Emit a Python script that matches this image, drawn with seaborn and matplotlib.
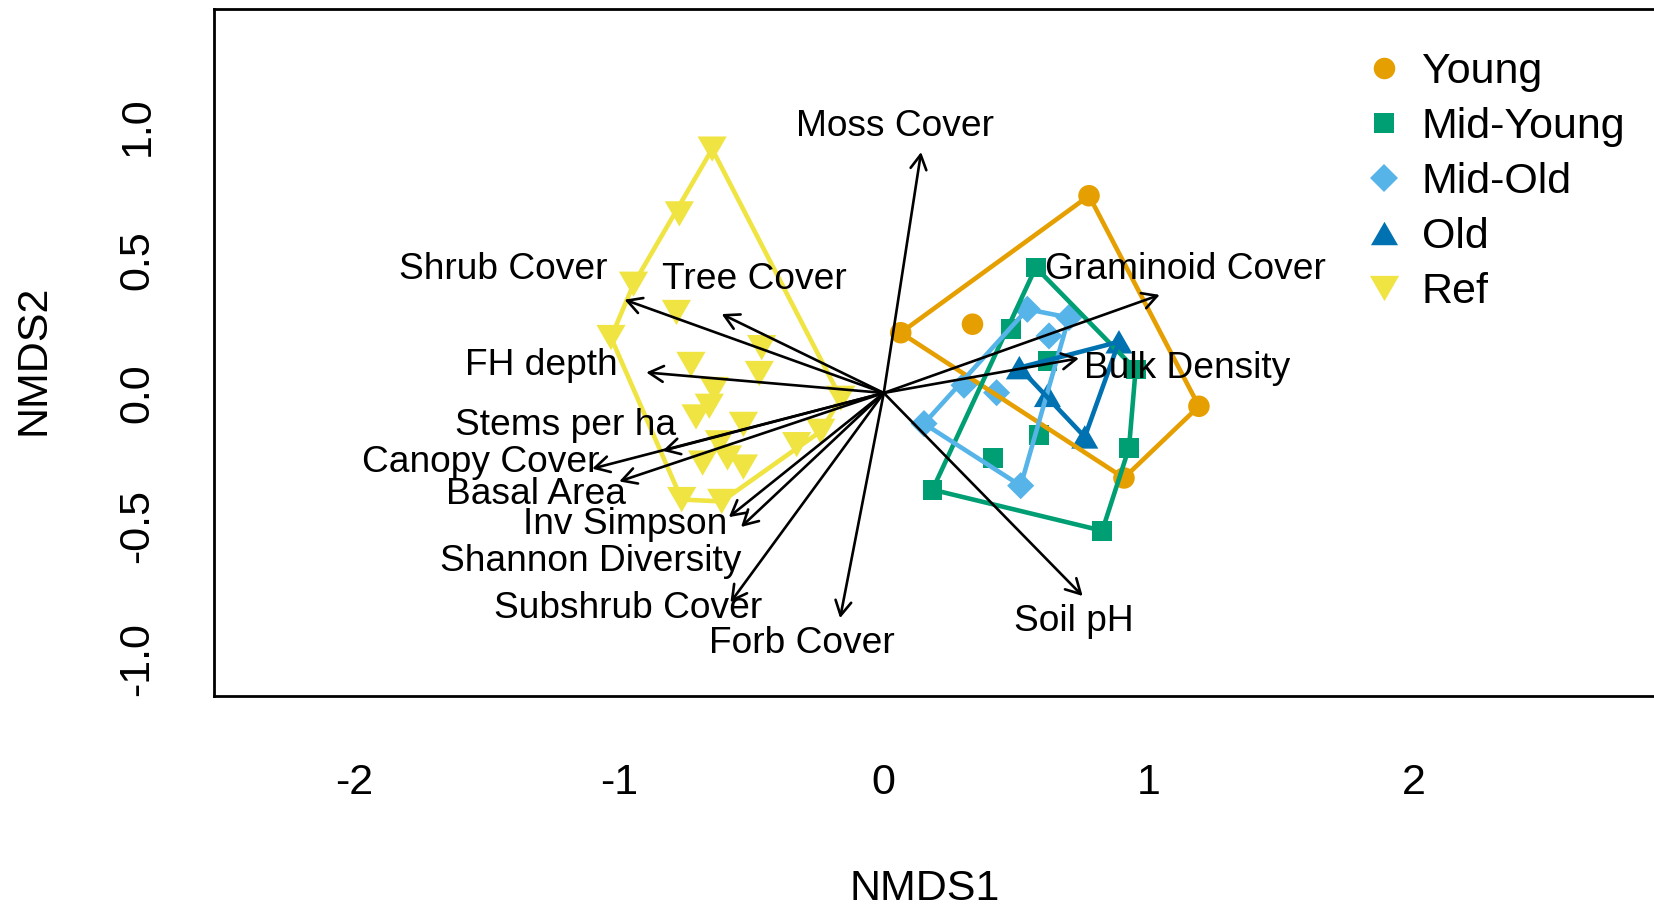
import numpy as np
import pandas as pd
import matplotlib
matplotlib.use("Agg")
import matplotlib.pyplot as plt
import seaborn as sns
from matplotlib.lines import Line2D
from matplotlib.patches import FancyArrowPatch
from matplotlib.markers import MarkerStyle

# ---- site scores (NMDS1, NMDS2) by stand age class ----
young_x = [0.064, 0.335, 0.775, 1.190, 0.907]
young_y = [0.226, 0.258, 0.740, -0.050, -0.319]

midyoung_x = [0.574, 0.479, 0.618, 0.951, 0.586, 0.926, 0.412, 0.184, 0.825]
midyoung_y = [0.471, 0.239, 0.120, 0.088, -0.159, -0.206, -0.244, -0.363, -0.517]

midold_x = [0.542, 0.699, 0.624, 0.303, 0.426, 0.152, 0.517]
midold_y = [0.314, 0.283, 0.214, 0.029, 0.001, -0.115, -0.348]

old_x = [0.888, 0.512, 0.618, 0.759]
old_y = [0.192, 0.095, -0.009, -0.165]

ref_x = [-0.648, -0.772, -0.945, -0.783, -1.030, -0.461, -0.728, -0.470, -0.640,
         -0.659, -0.709, -0.530, -0.162, -0.238, -0.329, -0.684, -0.590, -0.530,
         -0.621, -0.763, -0.612]
ref_y = [0.915, 0.672, 0.408, 0.302, 0.208, 0.170, 0.107, 0.073, 0.013,
         -0.050, -0.090, -0.118, -0.020, -0.144, -0.194, -0.263, -0.244, -0.278,
         -0.187, -0.400, -0.407]

groups = ["Young", "Mid-Young", "Mid-Old", "Old", "Ref"]
group_x = [young_x, midyoung_x, midold_x, old_x, ref_x]
group_y = [young_y, midyoung_y, midold_y, old_y, ref_y]

# ---- fitted environmental vectors ----
vec_names = ["Moss Cover", "Graminoid Cover", "Bulk Density", "Soil pH", "Forb Cover",
             "Subshrub Cover", "Shannon Diversity", "Inv Simpson", "Basal Area",
             "Canopy Cover", "Stems per ha", "FH depth", "Shrub Cover", "Tree Cover"]
vec_x = [0.141, 1.042, 0.737, 0.751, -0.165, -0.579, -0.539, -0.585, -0.999,
         -1.101, -0.835, -0.897, -0.979, -0.612]
vec_y = [0.904, 0.368, 0.130, -0.762, -0.845, -0.786, -0.503, -0.466, -0.332,
         -0.284, -0.217, 0.077, 0.350, 0.296]
lab_x = [0.042, 1.138, 1.144, 0.716, -0.309, -0.964, -1.105, -0.977, -1.312,
         -1.523, -1.202, -1.294, -1.437, -0.490]
lab_y = [1.000, 0.464, 0.091, -0.857, -0.941, -0.810, -0.631, -0.492, -0.381,
         -0.262, -0.123, 0.103, 0.464, 0.425]

xticks = [-2, -1, 0, 1, 2]
yticks = [-1.0, -0.5, 0.0, 0.5, 1.0]

# ---- styling ----
palette = {"Young": "#E69F00", "Mid-Young": "#009E73", "Mid-Old": "#56B4E9",
           "Old": "#0072B2", "Ref": "#F0E442"}
tri_up = MarkerStyle([(-1, -0.866), (1, -0.866), (0, 0.866)])
tri_down = MarkerStyle([(-1, 0.866), (1, 0.866), (0, -0.866)])
markers = {"Young": "o", "Mid-Young": "s", "Mid-Old": "D", "Old": tri_up, "Ref": tri_down}
msize = {"Young": 15.5, "Mid-Young": 14.3, "Mid-Old": 13.8, "Old": 19.5, "Ref": 21.0}

sns.set_style("white")
plt.rcParams["font.family"] = ["Liberation Sans", "DejaVu Sans"]
plt.rcParams["text.color"] = "black"
plt.rcParams["axes.labelcolor"] = "black"
plt.rcParams["xtick.color"] = "black"
plt.rcParams["ytick.color"] = "black"

fig = plt.figure(figsize=(16.54, 9.10), dpi=100)
ax = fig.add_axes([0.1294, 0.2352, 0.8803, 0.7554])

df = pd.DataFrame({
    "NMDS1": np.concatenate(group_x),
    "NMDS2": np.concatenate(group_y),
    "Age": np.repeat(groups, [len(g) for g in group_x]),
})

for g in groups:
    sub = df[df["Age"] == g]
    sns.scatterplot(data=sub, x="NMDS1", y="NMDS2", ax=ax, color=palette[g],
                    marker=markers[g], s=msize[g] ** 2, linewidth=0,
                    edgecolor="none", legend=False, zorder=2)


def convex_hull(xs, ys):
    pts = sorted(set(zip(xs, ys)))

    def cross(o, a, b):
        return (a[0] - o[0]) * (b[1] - o[1]) - (a[1] - o[1]) * (b[0] - o[0])

    lower, upper = [], []
    for p in pts:
        while len(lower) >= 2 and cross(lower[-2], lower[-1], p) <= 0:
            lower.pop()
        lower.append(p)
    for p in reversed(pts):
        while len(upper) >= 2 and cross(upper[-2], upper[-1], p) <= 0:
            upper.pop()
        upper.append(p)
    ring = lower[:-1] + upper[:-1]
    ring.append(ring[0])
    return [p[0] for p in ring], [p[1] for p in ring]


for g, gx, gy in zip(groups, group_x, group_y):
    hx, hy = convex_hull(gx, gy)
    ax.plot(hx, hy, color=palette[g], lw=3.3, solid_joinstyle="round",
            solid_capstyle="round", zorder=3)

for name, vx, vy, tx, ty in zip(vec_names, vec_x, vec_y, lab_x, lab_y):
    arr = FancyArrowPatch((0, 0), (vx, vy),
                          arrowstyle="->,head_length=0.4,head_width=0.22",
                          mutation_scale=26, lw=1.9, color="black",
                          shrinkA=0, shrinkB=0, zorder=4)
    ax.add_patch(arr)
    ax.text(tx, ty, name, ha="center", va="center", fontsize=26.7,
            color="black", zorder=5)

ax.set_xlim(-2.529, 2.969)
ax.set_ylim(-1.137, 1.4424)
ax.set_xticks(xticks)
ax.set_xticklabels([f"{t:g}" for t in xticks])
ax.set_yticks(yticks)
ax.set_yticklabels([f"{t:.1f}" for t in yticks])

ax.tick_params(axis="both", direction="out", length=18.5, width=1.6,
               color="black", labelsize=31, labelcolor="black")
ax.tick_params(axis="x", pad=44.3)
ax.tick_params(axis="y", pad=36.7)
plt.setp(ax.get_xticklabels(), va="center")
plt.setp(ax.get_yticklabels(), rotation=90, va="center", ha="center")

for side in ["left", "top", "bottom", "right"]:
    ax.spines[side].set_visible(True)
    ax.spines[side].set_color("black")
    ax.spines[side].set_linewidth(2.0)

ax.set_xlabel("NMDS1", fontsize=31, color="black")
ax.set_ylabel("NMDS2", fontsize=31, color="black")
ax.xaxis.set_label_coords(0.4883, -0.2808)
ax.yaxis.set_label_coords(-0.124, 0.489)
ax.xaxis.label.set_va("center")
ax.yaxis.label.set_va("center")

handles = [Line2D([], [], linestyle="none", marker=markers[g], color=palette[g],
                  markersize=msize[g], markeredgewidth=0) for g in groups]
leg = fig.legend(handles, groups, loc="upper left", bbox_to_anchor=(0.8238, 0.943),
                 frameon=False, fontsize=31, borderpad=0, borderaxespad=0,
                 handlelength=1.0, handletextpad=0.38, labelspacing=0.35,
                 labelcolor="black")

fig.savefig("out.png", dpi=100, facecolor="white")
